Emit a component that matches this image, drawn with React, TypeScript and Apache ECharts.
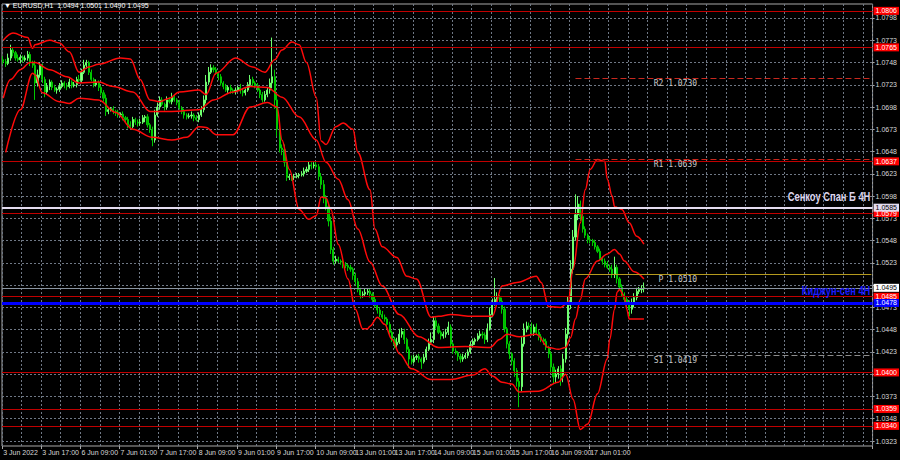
import { useEffect, useRef } from "react";
import * as echarts from "echarts";

const symbolName = "EURUSD,H1";
const timeLabels = ["3 Jun 2022", "3 Jun 17:00", "6 Jun 09:00", "7 Jun 01:00", "7 Jun 17:00", "8 Jun 09:00", "9 Jun 01:00", "9 Jun 17:00", "10 Jun 09:00", "13 Jun 01:00", "13 Jun 17:00", "14 Jun 09:00", "15 Jun 01:00", "15 Jun 17:00", "16 Jun 09:00", "17 Jun 01:00", "17 Jun 17:00"];
const priceTicks = [1.0323, 1.0348, 1.0373, 1.0398, 1.0423, 1.0448, 1.0473, 1.0498, 1.0523, 1.0548, 1.0573, 1.0598, 1.0623, 1.0648, 1.0673, 1.0698, 1.0723, 1.0748, 1.0773, 1.0798];
const yMin = 1.03174;
const yMax = 1.08137;
const slotCount = 356;
const firstOpen = 1.0751;

const closes = [
  1.0749, 1.0747, 1.0753, 1.0762, 1.0759, 1.0753, 1.0751, 1.0754, 1.0751, 1.0753,
  1.0757, 1.0748, 1.0745, 1.0725, 1.0734, 1.0745, 1.0729, 1.0715, 1.0721, 1.0726,
  1.0720, 1.0717, 1.0718, 1.0721, 1.0725, 1.0722, 1.0721, 1.0726, 1.0722, 1.0723,
  1.0729, 1.0728, 1.0737, 1.0745, 1.0748, 1.0737, 1.0729, 1.0723, 1.0725, 1.0720,
  1.0714, 1.0708, 1.0693, 1.0695, 1.0696, 1.0693, 1.0692, 1.0689, 1.0690, 1.0686,
  1.0684, 1.0678, 1.0676, 1.0684, 1.0681, 1.0680, 1.0681, 1.0686, 1.0687, 1.0678,
  1.0673, 1.0661, 1.0689, 1.0698, 1.0706, 1.0701, 1.0698, 1.0706, 1.0704, 1.0709,
  1.0706, 1.0703, 1.0697, 1.0693, 1.0689, 1.0687, 1.0688, 1.0689, 1.0686, 1.0684,
  1.0689, 1.0695, 1.0706, 1.0726, 1.0737, 1.0742, 1.0740, 1.0736, 1.0732, 1.0725,
  1.0721, 1.0717, 1.0720, 1.0717, 1.0715, 1.0717, 1.0720, 1.0716, 1.0714, 1.0717,
  1.0723, 1.0729, 1.0725, 1.0722, 1.0717, 1.0712, 1.0706, 1.0712, 1.0717, 1.0725,
  1.0732, 1.0706, 1.0673, 1.0652, 1.0650, 1.0636, 1.0619, 1.0620, 1.0619, 1.0620,
  1.0621, 1.0622, 1.0623, 1.0626, 1.0628, 1.0633, 1.0632, 1.0633, 1.0631, 1.0620,
  1.0611, 1.0596, 1.0586, 1.0570, 1.0538, 1.0525, 1.0527, 1.0525, 1.0524, 1.0521,
  1.0520, 1.0518, 1.0516, 1.0509, 1.0502, 1.0493, 1.0487, 1.0488, 1.0490, 1.0491,
  1.0488, 1.0482, 1.0475, 1.0470, 1.0465, 1.0462, 1.0460, 1.0454, 1.0445, 1.0437,
  1.0431, 1.0434, 1.0443, 1.0446, 1.0437, 1.0426, 1.0415, 1.0412, 1.0417, 1.0418,
  1.0415, 1.0412, 1.0417, 1.0426, 1.0434, 1.0437, 1.0458, 1.0452, 1.0445, 1.0441,
  1.0443, 1.0445, 1.0451, 1.0432, 1.0424, 1.0422, 1.0418, 1.0415, 1.0417, 1.0419,
  1.0423, 1.0431, 1.0435, 1.0437, 1.0441, 1.0443, 1.0442, 1.0437, 1.0449, 1.0465,
  1.0477, 1.0482, 1.0484, 1.0480, 1.0471, 1.0449, 1.0432, 1.0421, 1.0413, 1.0402,
  1.0390, 1.0384, 1.0432, 1.0449, 1.0452, 1.0451, 1.0445, 1.0451, 1.0445, 1.0440,
  1.0437, 1.0435, 1.0428, 1.0421, 1.0406, 1.0395, 1.0398, 1.0404, 1.0395, 1.0415,
  1.0443, 1.0477, 1.0516, 1.0552, 1.0577, 1.0589, 1.0575, 1.0561, 1.0554, 1.0549,
  1.0548, 1.0546, 1.0541, 1.0536, 1.0528, 1.0525, 1.0521, 1.0518, 1.0516, 1.0510,
  1.0518, 1.0505, 1.0496, 1.0488, 1.0482, 1.0477, 1.0471, 1.0477, 1.0484, 1.0491,
  1.0493, 1.0494, 1.0495,
];

// wick lengths in pips above / below the candle body
const wickUp = [
  4, 3, 5, 6, 3, 2, 4, 3, 2, 3, 4, 3, 2, 5, 6, 3, 2, 3, 4, 3,
  2, 3, 2, 4, 3, 2, 3, 4, 2, 3, 3, 5, 4, 6, 3, 2, 3, 2, 4, 3,
  2, 3, 4, 3, 2, 3, 2, 3, 2, 3, 2, 3, 4, 3, 2, 3, 4, 3, 2, 3,
  2, 3, 6, 5, 4, 3, 2, 4, 3, 5, 3, 2, 3, 2, 3, 2, 3, 4, 2, 3,
  3, 4, 5, 8, 6, 4, 3, 3, 2, 3, 2, 3, 2, 3, 2, 3, 2, 4, 3, 2,
  3, 5, 3, 2, 3, 2, 3, 4, 3, 5, 44, 8, 6, 5, 4, 6, 3, 3, 2, 3,
  3, 2, 3, 4, 3, 4, 3, 3, 4, 3, 4, 5, 3, 4, 5, 3, 4, 3, 2, 3,
  3, 2, 3, 2, 3, 4, 2, 3, 4, 3, 3, 2, 3, 2, 3, 4, 3, 2, 3, 2,
  3, 5, 6, 4, 3, 2, 3, 4, 3, 2, 3, 2, 4, 3, 4, 8, 5, 4, 3, 2,
  3, 4, 6, 3, 2, 3, 2, 3, 4, 3, 3, 4, 3, 2, 3, 4, 3, 3, 6, 8,
  6, 24, 6, 3, 4, 3, 2, 3, 2, 3, 3, 4, 8, 6, 5, 4, 5, 3, 4, 3,
  3, 2, 3, 2, 3, 4, 5, 3, 4, 6, 7, 8, 10, 8, 23, 9, 4, 3, 3, 2,
  3, 2, 3, 2, 3, 2, 3, 4, 3, 5, 12, 3, 2, 3, 2, 3, 4, 6, 5, 4,
  3, 4, 6,
];
const wickDown = [
  3, 4, 2, 3, 4, 3, 2, 4, 3, 2, 3, 4, 3, 19, 4, 3, 4, 6, 3, 4,
  3, 2, 4, 3, 2, 3, 4, 2, 3, 2, 3, 2, 3, 2, 4, 3, 2, 3, 2, 4,
  3, 4, 5, 3, 2, 3, 4, 3, 2, 3, 3, 4, 3, 2, 3, 4, 3, 2, 5, 3,
  4, 7, 3, 2, 3, 2, 4, 3, 2, 3, 2, 3, 2, 3, 4, 3, 2, 3, 4, 2,
  3, 2, 3, 4, 3, 2, 3, 2, 4, 3, 3, 2, 3, 4, 2, 3, 2, 3, 4, 3,
  2, 3, 4, 3, 2, 4, 3, 2, 3, 4, 6, 10, 8, 5, 6, 5, 4, 3, 4, 3,
  2, 3, 2, 3, 2, 3, 4, 3, 2, 4, 5, 6, 4, 6, 5, 4, 3, 2, 3, 4,
  3, 4, 3, 5, 4, 3, 4, 3, 2, 3, 4, 3, 2, 4, 3, 2, 3, 5, 4, 3,
  4, 3, 2, 4, 5, 4, 10, 3, 2, 3, 4, 8, 2, 3, 2, 3, 4, 3, 2, 4,
  3, 4, 3, 4, 3, 2, 5, 4, 3, 2, 3, 2, 3, 4, 2, 3, 4, 5, 3, 2,
  3, 2, 4, 3, 5, 4, 5, 6, 5, 7, 6, 23, 5, 3, 4, 3, 2, 4, 3, 4,
  3, 4, 3, 5, 6, 8, 7, 5, 10, 6, 4, 5, 6, 5, 4, 6, 5, 4, 3, 4,
  3, 4, 3, 2, 3, 4, 3, 2, 3, 4, 4, 5, 4, 3, 6, 5, 8, 5, 4, 3,
  3, 4, 4,
];

// Bollinger band curves: [bar index, price]
const bbUpper = [
  [0, 1.0773], [4, 1.0781], [10, 1.0776], [12, 1.0764], [13, 1.0768], [19, 1.0773], [23, 1.0770], [27, 1.0760],
  [31, 1.0737], [35, 1.0743], [39, 1.0746], [48, 1.0753], [52, 1.0752], [56, 1.0729], [60, 1.0706], [64, 1.0704],
  [68, 1.0708], [72, 1.0715], [80, 1.0717], [83, 1.0712], [87, 1.0736], [95, 1.0753], [102, 1.0743], [107, 1.0737],
  [111, 1.0751], [114, 1.0762], [118, 1.0771], [121, 1.0768], [124, 1.0748], [128, 1.0709], [130, 1.0660],
  [132, 1.0656], [136, 1.0676], [139, 1.0680], [143, 1.0673], [145, 1.0647], [150, 1.0605], [152, 1.0561],
  [155, 1.0541], [161, 1.0529], [165, 1.0508], [169, 1.0505], [175, 1.0462], [178, 1.0463], [183, 1.0465],
  [192, 1.0463], [200, 1.0463], [204, 1.0497], [210, 1.0501], [218, 1.0508], [220, 1.0501], [223, 1.0474],
  [228, 1.0473], [231, 1.0479], [233, 1.0516], [236, 1.0568], [238, 1.0605], [240, 1.0628], [243, 1.0639],
  [246, 1.0637], [247, 1.0617], [249, 1.0598], [250, 1.0586], [253, 1.0583], [256, 1.0568], [259, 1.0553], [262, 1.0544],
];
const bbMiddle = [
  [0, 1.0708], [3, 1.0729], [7, 1.0740], [11, 1.0748], [13, 1.0748], [19, 1.0740], [26, 1.0732], [31, 1.0725],
  [39, 1.0726], [45, 1.0721], [53, 1.0715], [60, 1.0693], [69, 1.0693], [80, 1.0695], [86, 1.0706], [94, 1.0715],
  [101, 1.0721], [108, 1.0720], [114, 1.0709], [121, 1.0687], [128, 1.0661], [132, 1.0636], [137, 1.0617],
  [141, 1.0594], [145, 1.0561], [150, 1.0524], [155, 1.0497], [162, 1.0465], [170, 1.0440], [178, 1.0428],
  [189, 1.0429], [199, 1.0428], [203, 1.0437], [206, 1.0443], [211, 1.0440], [218, 1.0443], [223, 1.0428],
  [227, 1.0426], [230, 1.0428], [232, 1.0439], [234, 1.0460], [236, 1.0482], [238, 1.0505], [243, 1.0525],
  [247, 1.0533], [250, 1.0538], [252, 1.0533], [254, 1.0525], [258, 1.0513], [262, 1.0505],
];
const bbLower = [
  [1, 1.0647], [7, 1.0695], [12, 1.0736], [13, 1.0734], [16, 1.0714], [23, 1.0704], [27, 1.0702], [31, 1.0708],
  [39, 1.0706], [46, 1.0692], [53, 1.0673], [61, 1.0664], [69, 1.0661], [75, 1.0664], [80, 1.0676], [83, 1.0675],
  [87, 1.0667], [94, 1.0667], [101, 1.0698], [108, 1.0703], [112, 1.0698], [114, 1.0661], [117, 1.0628],
  [121, 1.0583], [125, 1.0572], [128, 1.0576], [130, 1.0597], [132, 1.0596], [134, 1.0583], [137, 1.0544],
  [141, 1.0505], [144, 1.0471], [147, 1.0449], [149, 1.0449], [150, 1.0452], [153, 1.0462], [156, 1.0454],
  [159, 1.0437], [162, 1.0421], [167, 1.0404], [175, 1.0392], [183, 1.0392], [192, 1.0397], [197, 1.0404],
  [200, 1.0396], [204, 1.0389], [208, 1.0387], [211, 1.0378], [219, 1.0379], [227, 1.0389], [230, 1.0398],
  [233, 1.0370], [236, 1.0336], [239, 1.0342], [243, 1.0376], [247, 1.0415], [248, 1.0437], [250, 1.0471],
  [251, 1.0490], [252, 1.0493], [254, 1.0485], [255, 1.0471], [256, 1.0460], [262, 1.0460],
];

const supportLevels = [1.0806, 1.0765, 1.0637, 1.0579, 1.0485, 1.0400, 1.0359, 1.0340];
const senkouSpanB = 1.0585;
const kijunSen = 1.0478;
const senkouText = "Сенкоу Спан Б 4H";
const kijunText = "Киджун-сен 4H";
const pivotStart = 234;
const pivotNames = ["R2", "R1", "P", "S1"];
const pivotValues = [1.0730, 1.0639, 1.0510, 1.0419];
const pivotColors = ["#c8281e", "#c8281e", "#b49a1e", "#8c8c8c"];
const pivotDashed = [true, true, false, true];
const pivotTextAt = [266, 266, 268, 266];

const PIP = 0.0001;
const AXIS_FONT = "'Liberation Sans', Arial, sans-serif";

export default function App() {
  const ref = useRef<HTMLDivElement>(null);
  useEffect(() => {
    document.body.style.margin = "0";
    document.body.style.background = "#000";
    const chart = echarts.init(ref.current!, null, { renderer: "svg" });

    const cats = Array.from({ length: slotCount }, (_, i) => String(i));
    const candles = closes.map((c, i) => {
      const o = i === 0 ? firstOpen : closes[i - 1];
      return [o, c, +(Math.min(o, c) - wickDown[i] * PIP).toFixed(4), +(Math.max(o, c) + wickUp[i] * PIP).toFixed(4)];
    });
    const last = candles[candles.length - 1];
    const bid = last[1];
    const lastIdx = slotCount - 1;
    const boxedLevels = [...supportLevels, senkouSpanB, kijunSen, bid];

    const boxLabel = (v: number, bg: string, fg: string) => ({
      show: true,
      position: "end",
      formatter: v.toFixed(4),
      backgroundColor: bg,
      color: fg,
      padding: [0, 2, 0, 2],
      lineHeight: 8,
      fontSize: 7,
      fontFamily: AXIS_FONT,
      distance: 1,
    });

    const markLines: any[] = [];
    supportLevels.forEach((v) => {
      markLines.push({ yAxis: v, lineStyle: { color: "#c00000", width: 1, type: "solid" }, label: boxLabel(v, "#ff0000", "#ffffff") });
    });
    pivotValues.forEach((v, k) => {
      markLines.push([
        { coord: [pivotStart, v], lineStyle: { color: pivotColors[k], width: 1, type: pivotDashed[k] ? [6, 3] : "solid" }, label: { show: false } },
        { coord: [lastIdx, v] },
      ]);
    });
    markLines.push({ yAxis: bid, lineStyle: { color: "#8a94a0", width: 1, type: "solid" }, label: boxLabel(bid, "#ffffff", "#000000") });
    markLines.push({ yAxis: senkouSpanB, lineStyle: { color: "#e4dcf0", width: 2, type: "solid" }, label: boxLabel(senkouSpanB, "#e4dcf0", "#000000") });
    markLines.push({ yAxis: kijunSen, lineStyle: { color: "#0000ff", width: 3, type: "solid" }, label: boxLabel(kijunSen, "#0000ff", "#ffffff") });

    const pivotPoints: any[] = pivotValues.map((v, k) => ({
      coord: [pivotTextAt[k], v],
      symbol: "circle",
      symbolSize: 0,
      label: {
        show: true,
        position: "right",
        distance: 0,
        offset: [0, 5],
        formatter: `${pivotNames[k]} ${v.toFixed(4)}`,
        color: "#c8c8c8",
        fontSize: 8,
        fontFamily: "'DejaVu Sans Mono', monospace",
      },
    }));

    const gridLine = { color: "#6f7885", width: 1, type: [2, 2] };
    const bandLine = (data: number[][]) => ({
      type: "line",
      data,
      smooth: 0.35,
      smoothMonotone: "x",
      showSymbol: false,
      silent: true,
      lineStyle: { color: "#ff0a0a", width: 1.5 },
      z: 3,
    });

    const header = {
      type: "text",
      left: 4,
      top: 2,
      style: {
        text: `▼ ${symbolName}  ${last[0].toFixed(4)} ${last[3].toFixed(4)} ${last[2].toFixed(4)} ${last[1].toFixed(4)}`,
        fill: "#ffffff",
        font: `7px ${AXIS_FONT}`,
      },
    };

    chart.setOption({
      animation: false,
      backgroundColor: "#000000",
      grid: { left: 2, right: 25, top: 4, bottom: 14, show: true, borderColor: "#a8a8a8", borderWidth: 1, backgroundColor: "#000000" },
      xAxis: {
        type: "category",
        data: cats,
        boundaryGap: true,
        axisLine: { show: false },
        axisTick: { show: true, interval: (i: number) => i % 16 === 0 && i < closes.length, length: 3, lineStyle: { color: "#a8a8a8" } },
        axisLabel: {
          interval: (i: number) => i % 16 === 0 && i < closes.length,
          formatter: (_v: string, i: number) => timeLabels[i / 16] ?? "",
          color: "#d8d8d8",
          fontSize: 7,
          fontFamily: AXIS_FONT,
          align: "left",
          margin: 3,
        },
        splitLine: { show: true, interval: (i: number) => i % 8 === 0, lineStyle: gridLine },
      },
      yAxis: {
        type: "value",
        position: "right",
        min: yMin,
        max: yMax,
        axisLine: { show: false },
        axisTick: { show: true, customValues: priceTicks, length: 2, lineStyle: { color: "#a8a8a8" } },
        axisLabel: {
          customValues: priceTicks,
          // labels covered by a price box in the terminal are not drawn
          formatter: (v: number) => (boxedLevels.some((b) => Math.abs(b - v) < 0.00045) ? "" : v.toFixed(4)),
          color: "#d8d8d8",
          fontSize: 7,
          fontFamily: AXIS_FONT,
          margin: 3,
        },
        splitLine: { show: true, lineStyle: gridLine },
      },
      graphic: [header],
      series: [
        {
          type: "candlestick",
          data: candles,
          barWidth: 1.6,
          silent: true,
          itemStyle: { color: "#8cff8c", color0: "#00b400", borderColor: "#6eff6e", borderColor0: "#00c800", borderWidth: 1 },
          markLine: { symbol: ["none", "none"], silent: true, animation: false, precision: 4, data: markLines },
          markPoint: { silent: true, animation: false, data: pivotPoints },
          z: 2,
        },
        bandLine(bbUpper),
        bandLine(bbMiddle),
        bandLine(bbLower),
      ],
    });

    // condensed bold level captions, anchored at the right end of their lines
    const caption = (v: number, text: string, color: string, dy: number) => {
      const p = chart.convertToPixel({ gridIndex: 0 }, [lastIdx, v]) as number[];
      return {
        type: "text",
        x: p[0] - 1,
        y: p[1] + dy,
        scaleX: 0.72,
        z: 10,
        style: { text, fill: color, font: `bold 13px ${AXIS_FONT}`, align: "right", verticalAlign: "bottom" },
      };
    };
    chart.setOption({
      graphic: [
        header,
        caption(senkouSpanB, senkouText, "#dcd4ec", -5),
        caption(kijunSen, kijunText, "#1a1aff", -6),
      ],
    });
    return () => chart.dispose();
  }, []);
  return <div ref={ref} style={{ width: 900, height: 460, background: "#000" }} />;
}
